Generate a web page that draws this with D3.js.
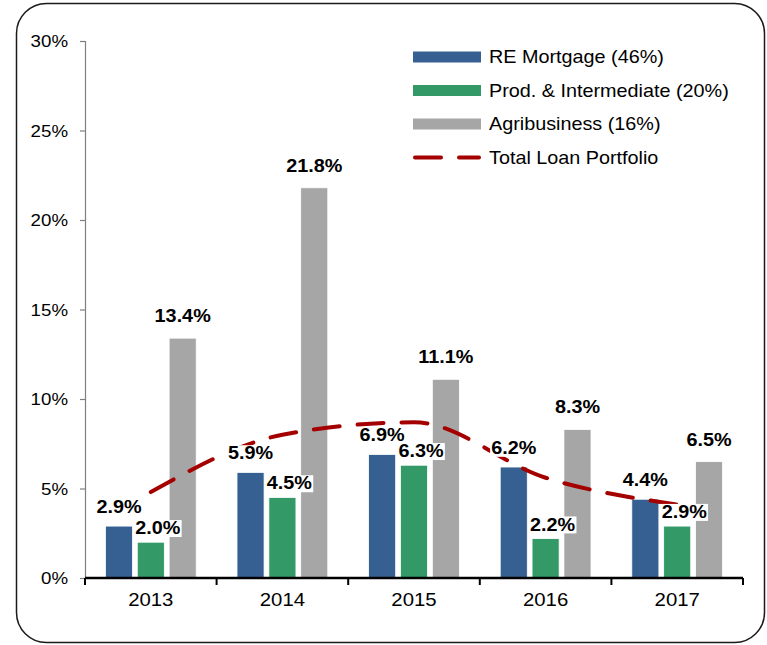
<!DOCTYPE html>
<html>
<head>
<meta charset="utf-8">
<script src="https://cdn.jsdelivr.net/npm/d3@7/dist/d3.min.js"></script>
<style>
  html, body { margin: 0; padding: 0; background: #fff; }
  text { font-family: Arial, "Liberation Sans", sans-serif; fill: #000; }
</style>
</head>
<body>
<svg id="chart" width="767" height="645"></svg>
<script>
// chart data
const years = ['2013', '2014', '2015', '2016', '2017'];
const seriesNames = ['RE Mortgage (46%)', 'Prod. & Intermediate (20%)', 'Agribusiness (16%)'];
const reMortgage = [2.9, 5.9, 6.9, 6.2, 4.4];
const prodIntermediate = [2.0, 4.5, 6.3, 2.2, 2.9];
const agribusiness = [13.4, 21.8, 11.1, 8.3, 6.5];
const totalPortfolio = [4.8, 8.0, 8.7, 5.6, 4.1];
const lineName = 'Total Loan Portfolio';
const yTicks = [0, 5, 10, 15, 20, 25, 30];

const colors = ['#376092', '#339966', '#A6A6A6'];
const lineColor = '#A50000';
const stretch = 1.1; // the reference type is a bit wide
// label nudges per series (excel-ish placement)
const labelDx = [0, 7, 0];
const labelGap = [13, 8, 16];

const svg = d3.select('#chart');
const margin = { top: 41, left: 85, right: 24, bottom: 67 };
const width = 767, height = 645;

// rounded frame
svg.append('rect')
  .attr('x', 16.5).attr('y', 3.5)
  .attr('width', 748).attr('height', 639)
  .attr('rx', 30).attr('ry', 30)
  .attr('fill', '#fff')
  .attr('stroke', '#1a1a1a')
  .attr('stroke-width', 1.5);

const x0 = d3.scaleBand()
  .domain(years)
  .range([margin.left, width - margin.right])
  .paddingInner(0.31)
  .paddingOuter(0.155);

const x1 = d3.scaleBand()
  .domain(d3.range(seriesNames.length))
  .range([0, x0.bandwidth()])
  .paddingInner(0.15);

const y = d3.scaleLinear()
  .domain([0, 30])
  .range([height - margin.bottom, margin.top]);

// helper for stretched text
function stretchedText(g, tx, ty, str) {
  return g.append('text')
    .attr('transform', `translate(${tx},${ty}) scale(${stretch},1)`)
    .text(str);
}

// y axis
const yAxis = svg.append('g')
  .attr('transform', `translate(${margin.left},0)`)
  .call(d3.axisLeft(y).tickValues(yTicks).tickSize(5).tickFormat((d) => d + '%'));
yAxis.select('.domain').attr('stroke', '#7f7f7f').attr('stroke-width', 1.2);
yAxis.selectAll('.tick line').attr('stroke', '#7f7f7f').attr('stroke-width', 1.2);
yAxis.selectAll('.tick text').remove();
yAxis.selectAll('.tick').each(function (d) {
  stretchedText(d3.select(this), -17, 0, d + '%')
    .attr('text-anchor', 'end')
    .attr('dy', '0.35em')
    .style('font-size', '17px');
});

// bars
const seriesValues = [reMortgage, prodIntermediate, agribusiness];
const barData = [];
years.forEach((yr, i) => {
  seriesValues.forEach((vals, s) => {
    barData.push({ year: yr, s, value: vals[i] });
  });
});

svg.append('g')
  .selectAll('rect')
  .data(barData)
  .enter()
  .append('rect')
  .attr('x', (d) => x0(d.year) + x1(d.s))
  .attr('y', (d) => y(d.value))
  .attr('width', x1.bandwidth())
  .attr('height', (d) => y(0) - y(d.value))
  .attr('fill', (d) => colors[d.s])
  .attr('stroke', '#fff')
  .attr('stroke-width', 0.8);

// x axis
const xAxisY = y(0);
svg.append('line')
  .attr('x1', margin.left).attr('x2', width - margin.right)
  .attr('y1', xAxisY).attr('y2', xAxisY)
  .attr('stroke', '#000').attr('stroke-width', 2.5);
const boundaries = years.map((yr) => x0(yr) - x0.step() * x0.paddingInner() / 2)
  .concat([width - margin.right]);
svg.append('g')
  .selectAll('line')
  .data(boundaries)
  .enter()
  .append('line')
  .attr('x1', (d) => d).attr('x2', (d) => d)
  .attr('y1', xAxisY).attr('y2', xAxisY + 7)
  .attr('stroke', '#000').attr('stroke-width', 2);
years.forEach((yr) => {
  stretchedText(svg, x0(yr) + x0.bandwidth() / 2, xAxisY + 28, yr)
    .attr('text-anchor', 'middle')
    .style('font-size', '18.5px');
});

// total loan portfolio line
const line = d3.line()
  .x((d, i) => x0(years[i]) + x0.bandwidth() / 2)
  .y((d) => y(d))
  .curve(d3.curveMonotoneX);

svg.append('path')
  .datum(totalPortfolio)
  .attr('d', line)
  .attr('fill', 'none')
  .attr('stroke', lineColor)
  .attr('stroke-width', 4)
  .attr('stroke-linecap', 'round')
  .attr('stroke-dasharray', '26,18');

// data labels with white backing
const labelGroup = svg.append('g');
barData.forEach((d) => {
  const cx = x0(d.year) + x1(d.s) + x1.bandwidth() / 2 + labelDx[d.s];
  const g = labelGroup.append('g')
    .attr('transform', `translate(${cx},${y(d.value) - labelGap[d.s]}) scale(${stretch},1)`);
  const bg = g.append('rect').attr('fill', '#fff');
  const t = g.append('text')
    .attr('text-anchor', 'middle')
    .style('font-size', '18px')
    .style('font-weight', 'bold')
    .text(d.value.toFixed(1) + '%');
  const bb = t.node().getBBox();
  bg.attr('x', bb.x - 1).attr('y', bb.y + 2)
    .attr('width', bb.width + 2).attr('height', bb.height - 3);
});

// legend
const legend = svg.append('g');
const legendRows = seriesNames.concat([lineName]);
legendRows.forEach((name, i) => {
  const ly = 57 + i * 33.5;
  if (i < 3) {
    legend.append('rect')
      .attr('x', 413).attr('y', ly - 5.5)
      .attr('width', 68).attr('height', 11)
      .attr('fill', colors[i]);
  } else {
    legend.append('line')
      .attr('x1', 415).attr('x2', 479)
      .attr('y1', ly).attr('y2', ly)
      .attr('stroke', lineColor)
      .attr('stroke-width', 4)
      .attr('stroke-linecap', 'round')
      .attr('stroke-dasharray', '26,18');
  }
  stretchedText(legend, 489, ly, name)
    .attr('dy', '0.35em')
    .style('font-size', '18px');
});
</script>
</body>
</html>
